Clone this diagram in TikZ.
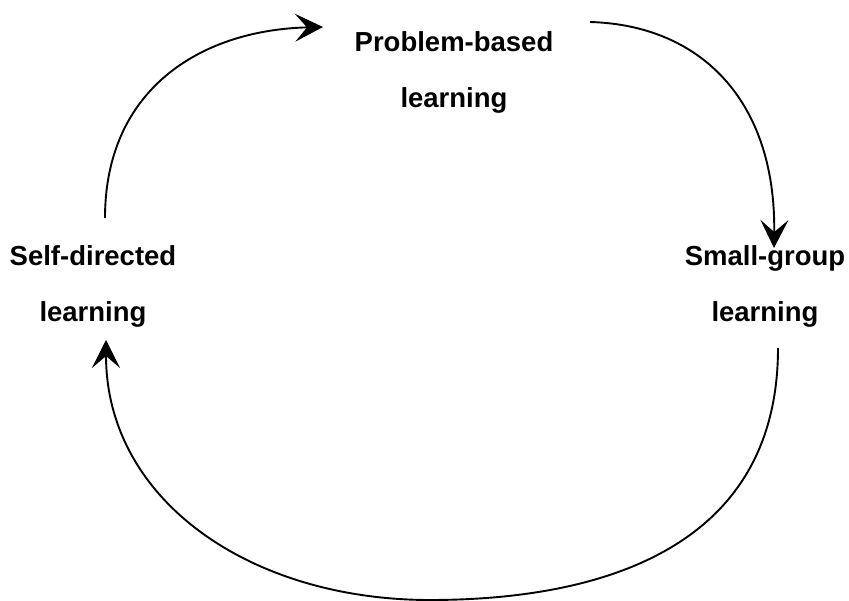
\documentclass[tikz,border=0pt]{standalone}
\usepackage{fontspec}
\setmainfont{Liberation Sans}
\usetikzlibrary{arrows.meta}
\begin{document}
\begin{tikzpicture}[x=1pt,y=-1pt,
  lbl/.style={font=\fontsize{27.5}{56}\selectfont\bfseries, align=center, inner sep=0pt},
  conn/.style={line width=1.9pt, -{Stealth[length=28pt,width=28pt,inset=12pt]}}]
\useasboundingbox (0,0) rectangle (849,601);
\node[lbl, anchor=base] (pb) at (454,108) {Problem-based\\learning};
\node[lbl, anchor=base] (sd) at (93,322) {Self-directed\\learning};
\node[lbl, anchor=base] (sg) at (765,322) {Small-group\\learning};
\coordinate (s1) at (105,218);
\coordinate (e1) at (323,27);
\coordinate (s2) at (590,22);
\coordinate (e2) at (774,248);
\coordinate (s3) at (778,348);
\coordinate (b3) at (430,600);
\coordinate (e3) at (106,340);
\draw[conn] (s1) .. controls (105,90) and (200,30) .. (e1);
\draw[conn] (s2) .. controls (700,25) and (776,100) .. (e2);
\draw[conn] (s3) .. controls (778,560) and (580,600) .. (b3) .. controls (250,600) and (106,500) .. (e3);
\end{tikzpicture}
\end{document}
